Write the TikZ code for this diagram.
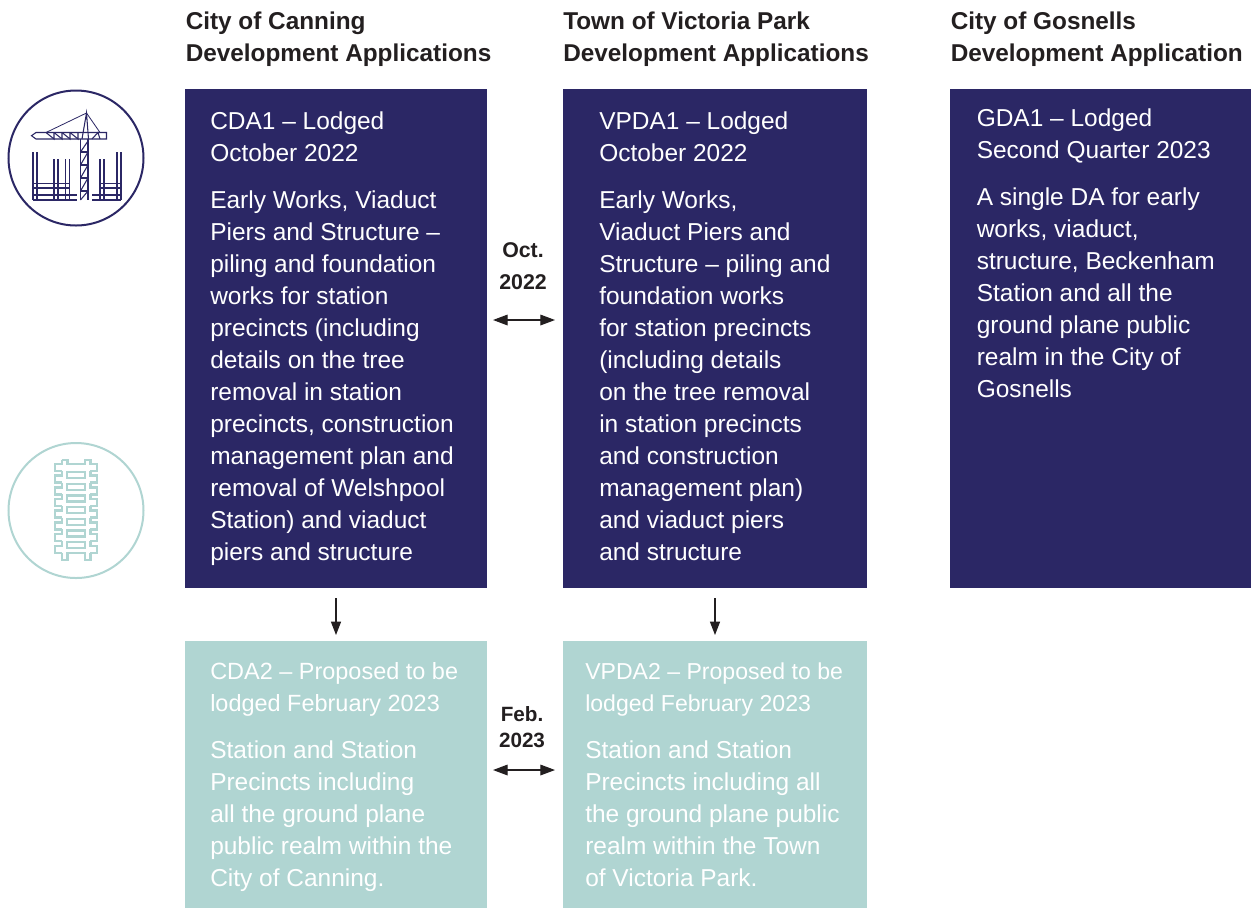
\documentclass[tikz,border=0pt]{standalone}
\usepackage{fontspec}
\setmainfont{Liberation Sans}
\usetikzlibrary{arrows.meta}
\definecolor{navy}{HTML}{2B2765}
\definecolor{teal1}{HTML}{B0D5D2}
\definecolor{ink}{HTML}{231F20}
\newcommand{\bodyfs}{\fontsize{18.35}{24}\selectfont}
\newcommand{\subca}{\fontsize{17.6}{24}\selectfont}
\newcommand{\subvp}{\fontsize{17.3}{24}\selectfont}
\tikzset{
  x=0.75pt,y=-0.75pt,
  navybox/.style={fill=navy},
  tealbox/.style={fill=teal1},
  body/.style={anchor=north west,inner sep=0pt,align=left,text=white,font=\bodyfs},
  head/.style={anchor=north west,inner sep=0pt,align=left,text=ink,font=\fontsize{18.25}{24}\selectfont\bfseries},
  datelabel/.style={anchor=center,inner sep=0pt,align=center,text=ink,font=\fontsize{16}{24}\selectfont\bfseries},
  datelabelb/.style={anchor=center,inner sep=0pt,align=center,text=ink,font=\fontsize{15.5}{20}\selectfont\bfseries},
  conn/.style={draw=ink,line width=0.9pt,-{Triangle[length=10pt,width=7.5pt]}},
  dconn/.style={draw=ink,line width=0.9pt,{Triangle[length=11pt,width=8pt]}-{Triangle[length=11pt,width=8pt]}},
  icon/.style={draw=navy,line width=0.8pt},
  railicon/.style={draw=teal1,line width=1.8pt},
}
\begin{document}
\begin{tikzpicture}
\useasboundingbox (0,0) rectangle (1251,908);
\fill[white] (0,0) rectangle (1251,908);
% boxes
\path[navybox] (185,89) rectangle (487,588);
\path[navybox] (563,89) rectangle (867,588);
\path[navybox] (950,89) rectangle (1251,588);
\path[tealbox] (185,641) rectangle (487,908);
\path[tealbox] (563,641) rectangle (867,908);
\coordinate (c1b) at (336,598); \coordinate (c1t) at (336,635);
\coordinate (v1b) at (715,598); \coordinate (v1t) at (715,635);
\coordinate (o1) at (493,320); \coordinate (o2) at (555,320);
\coordinate (f1) at (493,770); \coordinate (f2) at (555,770);
% headings
\node[head] (h1) at (185.5,12) {City of Canning\\Development Applications};
\node[head] (h2) at (563,12) {Town of Victoria Park\\Development Applications};
\node[head] (h3) at (950.5,12) {City of Gosnells\\Development Application};
% body
\node[body] (t1) at (210,111) {CDA1 – Lodged\\October 2022\\[11.25pt]Early Works, Viaduct\\Piers and Structure –\\piling and foundation\\works for station\\precincts (including\\details on the tree\\removal in station\\precincts, construction\\management plan and\\removal of Welshpool\\Station) and viaduct\\piers and structure};
\node[body] (t2) at (599,111) {VPDA1 – Lodged\\October 2022\\[11.25pt]Early Works,\\Viaduct Piers and\\Structure – piling and\\foundation works\\for station precincts\\(including details\\on the tree removal\\in station precincts\\and construction\\management plan)\\and viaduct piers\\and structure};
\node[body] (t3) at (976.5,108) {GDA1 – Lodged\\Second Quarter 2023\\[11.25pt]A single DA for early\\works, viaduct,\\structure, Beckenham\\Station and all the\\ground plane public\\realm in the City of\\Gosnells};
\node[body] (t4) at (210,662) {\subca CDA2 – Proposed to be\\\subca lodged February 2023\\[11.25pt]Station and Station\\Precincts including\\all the ground plane\\public realm within the\\City of Canning.};
\node[body] (t5) at (585,662) {\subvp VPDA2 – Proposed to be\\\subvp lodged February 2023\\[11.25pt]Station and Station\\Precincts including all\\the ground plane public\\realm within the Town\\of Victoria Park.};
% dates
\node[datelabel] (d1) at (523,266) {Oct.\\2022};
\node[datelabelb] (d2) at (522,727) {Feb.\\2023};
% connectors
\draw[conn] (c1b) -- (c1t);
\draw[conn] (v1b) -- (v1t);
\draw[dconn] (o1) -- (o2);
\draw[dconn] (f1) -- (f2);
% crane icon
\draw[navy,line width=1.5pt] (76,158) circle (67.5);
\begin{scope}[icon]
\draw (36,132.5) -- (106.5,132.5) -- (106.5,139) -- (36,139) -- (31.5,135.7) -- cycle;
\foreach \jx in {46,54,62,70}{
  \draw (\jx,132.5) -- ({\jx+8},139) -- ({\jx+8},132.5);
}
\draw (92,139)--(98,132.5)--(100,139);
\draw (80.5,139) -- (80.5,200) (88,139) -- (88,200);
\draw (80.5,152)--(88,152) (80.5,165)--(88,165) (80.5,178)--(88,178) (80.5,191)--(88,191);
\draw (80.5,152)--(88,141) (80.5,165)--(88,152) (80.5,178)--(88,165) (80.5,191)--(88,178) (80.5,200)--(88,191);
\draw (82,139)--(86.5,113)--(88.5,139);
\draw[line width=0.6pt] (46,132.5)--(86.5,113)--(100,132.5);
\foreach \vx in {33,37,117,121}{
  \draw (\vx,152) -- (\vx,200);
}
\foreach \vx in {54,58,65.5,69.5,100,104}{
  \draw (\vx,159) -- (\vx,200);
}
\draw (33,183.5)--(69.5,183.5) (33,188)--(69.5,188) (33,195)--(77,195) (33,200)--(77,200);
\draw (100,183.5)--(121,183.5) (100,188)--(121,188) (92,195)--(121,195) (92,200)--(121,200);
\end{scope}
% rail icon
\draw[teal1,line width=1.5pt] (76,510.5) circle (67.5);
\begin{scope}[railicon,line join=miter]
\draw (61.7,460) -- (67.3,460) -- (67.3,464) -- (84.7,464) -- (84.7,460) -- (90.3,460) -- (90.3,464) -- (97,464) -- (97,471) -- (90.3,471);
\draw (61.7,460) -- (61.7,464) -- (55,464) -- (55,471) -- (61.7,471);
\foreach \i in {1,...,7}{
  \pgfmathsetmacro{\ya}{464+11.67*\i}
  \pgfmathsetmacro{\yb}{471+11.67*\i}
  \pgfmathsetmacro{\yc}{471+11.67*(\i-1)}
  \draw (61.7,\yc) -- (61.7,\ya) -- (55,\ya) -- (55,\yb) -- (61.7,\yb);
  \draw (90.3,\yc) -- (90.3,\ya) -- (97,\ya) -- (97,\yb) -- (90.3,\yb);
  \pgfmathsetmacro{\wa}{471+11.67*(\i-1)+1.2}
  \pgfmathsetmacro{\wb}{\wa+6}
  \draw (67,\wa) rectangle (85,\wb);
}
\draw (61.7,552.7) -- (61.7,560) -- (67.3,560) -- (67.3,552.7) -- (84.7,552.7) -- (84.7,560) -- (90.3,560) -- (90.3,552.7);
\end{scope}
\end{tikzpicture}
\end{document}
